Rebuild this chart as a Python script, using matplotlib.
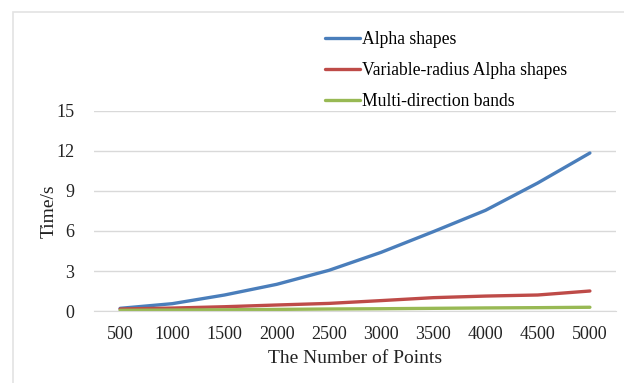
import matplotlib.pyplot as plt
from matplotlib.patches import Rectangle

# datos
puntos = ['500', '1000', '1500', '2000', '2500', '3000', '3500', '4000', '4500', '5000']
alpha = [0.2, 0.55, 1.2, 2.0, 3.05, 4.4, 5.95, 7.55, 9.6, 11.85]
alpha_var = [0.15, 0.22, 0.32, 0.45, 0.57, 0.78, 1.0, 1.12, 1.2, 1.5]
bandas = [0.05, 0.07, 0.09, 0.12, 0.15, 0.17, 0.2, 0.23, 0.25, 0.28]
yticks = [0, 3, 6, 9, 12, 15]

plt.rcParams['font.family'] = ['Liberation Serif', 'DejaVu Serif']

fig = plt.figure(figsize=(6.24, 3.83), dpi=100)
ax = fig.add_axes([94/624, 1 - 311/383, 522/624, 200/383])

# marco gris claro del gráfico
fig.patches.append(Rectangle((13/624, -0.1), 1.2, 1 - 12/383 + 0.1, transform=fig.transFigure,
                             fill=False, edgecolor='#e3e3e3', linewidth=1.2))

x = range(len(puntos))
ax.plot(x, alpha, color='#4a7ebb', lw=2.4, label='Alpha shapes', solid_capstyle='round')
ax.plot(x, alpha_var, color='#be4b48', lw=2.4, label='Variable-radius Alpha shapes', solid_capstyle='round')
ax.plot(x, bandas, color='#98b954', lw=2.4, label='Multi-direction bands', solid_capstyle='round')

ax.set_xlim(-0.5, len(puntos) - 0.5)
ax.set_ylim(0, 15)
ax.set_xticks(list(x))
ax.set_xticklabels(puntos)
ax.set_yticks(yticks)
ax.grid(axis='y', color='#d9d9d9', lw=1)
ax.set_axisbelow(True)
for s in ['top', 'right', 'left']:
    ax.spines[s].set_visible(False)
ax.spines['bottom'].set_color('#d9d9d9')
ax.tick_params(length=0, labelsize=13, colors='#222222')
ax.tick_params(axis='x', pad=11)
ax.tick_params(axis='y', pad=14)

ax.set_xlabel('The Number of Points', fontsize=14, color='#222222')
ax.set_ylabel('Time/s', fontsize=14, color='#222222')
ax.xaxis.set_label_coords(0.5, -0.195)
ax.yaxis.set_label_coords(-0.07, 0.5)

fig.legend(loc='upper left', bbox_to_anchor=(309/624, 1 - 15.5/383), frameon=False,
           fontsize=12.7, handlelength=2.0, handletextpad=0.1, labelspacing=0.78)

fig.savefig('out.png', dpi=100)
